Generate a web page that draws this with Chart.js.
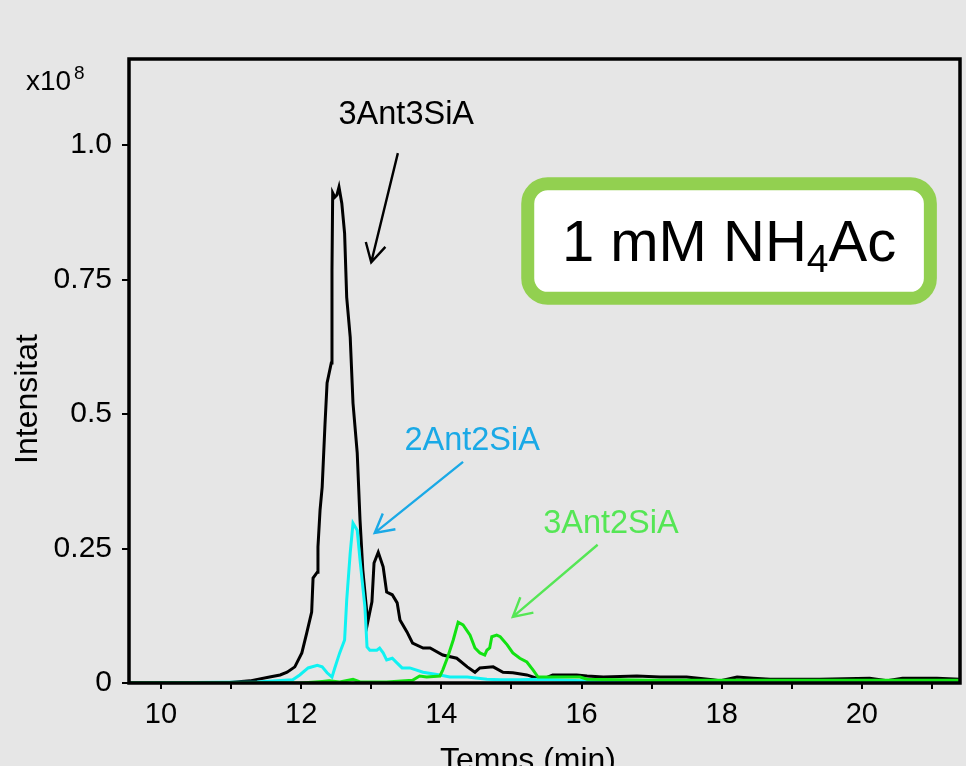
<!DOCTYPE html>
<html>
<head>
<meta charset="utf-8">
<script src="https://cdn.jsdelivr.net/npm/chart.js@4.4.1/dist/chart.umd.min.js"></script>
<style>
  html, body { margin: 0; padding: 0; background: #e6e6e6; }
  canvas { display: block; }
</style>
</head>
<body>
<canvas id="chromChart" width="966" height="766"></canvas>
<script>
// 3Ant3SiA (negre)
const blackTime = [9.55, 10.9, 11.27, 11.55, 11.70, 11.80, 11.91, 12.01, 12.08, 12.15, 12.17, 12.23, 12.24, 12.27, 12.30, 12.34, 12.37, 12.43, 12.44, 12.45, 12.48, 12.51, 12.54, 12.58, 12.62, 12.65, 12.70, 12.74, 12.80, 12.84, 12.88, 12.95, 13.01, 13.04, 13.10, 13.17, 13.22, 13.30, 13.37, 13.41, 13.51, 13.59, 13.74, 13.84, 14.02, 14.22, 14.37, 14.48, 14.55, 14.74, 14.88, 15.02, 15.22, 15.36, 15.45, 15.59, 15.93, 16.08, 16.31, 16.79, 17.12, 17.50, 17.87, 17.97, 18.22, 18.45, 18.69, 19.40, 20.11, 20.36, 20.58, 21.07, 21.40];
const blackInt = [0, 0, 0.004, 0.011, 0.015, 0.020, 0.030, 0.056, 0.093, 0.132, 0.195, 0.206, 0.253, 0.322, 0.364, 0.480, 0.558, 0.595, 0.768, 0.911, 0.903, 0.907, 0.922, 0.892, 0.836, 0.717, 0.643, 0.520, 0.428, 0.303, 0.210, 0.113, 0.151, 0.223, 0.243, 0.216, 0.169, 0.164, 0.149, 0.117, 0.095, 0.074, 0.065, 0.065, 0.052, 0.046, 0.030, 0.020, 0.028, 0.030, 0.020, 0.019, 0.015, 0.009, 0.007, 0.015, 0.015, 0.013, 0.011, 0.013, 0.011, 0.011, 0.006, 0.004, 0.011, 0.009, 0.007, 0.007, 0.009, 0.004, 0.009, 0.009, 0.007];

// 2Ant2SiA (cian)
const cyanTime = [9.55, 11.37, 11.88, 11.98, 12.10, 12.23, 12.30, 12.37, 12.44, 12.48, 12.55, 12.62, 12.65, 12.70, 12.74, 12.80, 12.84, 12.91, 12.94, 12.98, 13.08, 13.12, 13.17, 13.22, 13.30, 13.37, 13.44, 13.55, 13.74, 13.98, 14.12, 14.37, 14.65, 14.84, 15.12, 15.41, 16.0, 17.0, 18.0, 19.0, 20.0, 21.40];
const cyanInt = [0, 0.002, 0.006, 0.015, 0.028, 0.033, 0.030, 0.019, 0.011, 0.028, 0.056, 0.080, 0.154, 0.242, 0.297, 0.284, 0.229, 0.141, 0.067, 0.061, 0.061, 0.065, 0.056, 0.043, 0.046, 0.037, 0.028, 0.028, 0.020, 0.015, 0.011, 0.011, 0.007, 0.006, 0.006, 0.007, 0.004, 0.004, 0.004, 0.004, 0.004, 0.004];

// 3Ant2SiA (verd)
const greenTime = [9.55, 12.0, 12.3, 12.4, 12.55, 12.74, 12.84, 13.22, 13.59, 13.69, 13.79, 13.98, 14.02, 14.09, 14.17, 14.24, 14.31, 14.41, 14.48, 14.55, 14.62, 14.65, 14.69, 14.72, 14.79, 14.84, 14.94, 15.02, 15.12, 15.22, 15.31, 15.38, 15.51, 15.69, 15.98, 16.08, 17.0, 18.0, 19.0, 20.0, 21.40];
const greenInt = [0, 0, 0.003, 0.004, 0.002, 0.007, 0.002, 0.002, 0.005, 0.013, 0.011, 0.013, 0.024, 0.048, 0.080, 0.113, 0.108, 0.089, 0.065, 0.056, 0.052, 0.061, 0.065, 0.086, 0.089, 0.086, 0.071, 0.056, 0.046, 0.039, 0.024, 0.011, 0.011, 0.011, 0.011, 0.007, 0.005, 0.005, 0.005, 0.005, 0.005];

const yTicks = [0, 0.25, 0.5, 0.75, 1.0];
const yTickLabels = ['0', '0.25', '0.5', '0.75', '1.0'];
const xTicks = [10, 11, 12, 13, 14, 15, 16, 17, 18, 19, 20, 21];
const xTickLabels = ['10', '', '12', '', '14', '', '16', '', '18', '', '20', ''];

const FONT = '"Liberation Sans", Arial, sans-serif';
Chart.defaults.font.family = FONT;

function toPoints(t, v) {
  return t.map((x, i) => ({ x: x, y: v[i] }));
}

function arrow(ctx, x1, y1, x2, y2, color) {
  const a = Math.atan2(y2 - y1, x2 - x1);
  const len = 21, spread = 0.5;
  ctx.strokeStyle = color;
  ctx.lineWidth = 2.4;
  ctx.beginPath();
  ctx.moveTo(x1, y1);
  ctx.lineTo(x2, y2);
  ctx.moveTo(x2 - len * Math.cos(a - spread), y2 - len * Math.sin(a - spread));
  ctx.lineTo(x2, y2);
  ctx.lineTo(x2 - len * Math.cos(a + spread), y2 - len * Math.sin(a + spread));
  ctx.stroke();
}

function roundRect(ctx, x, y, w, h, r) {
  ctx.beginPath();
  ctx.moveTo(x + r, y);
  ctx.arcTo(x + w, y, x + w, y + h, r);
  ctx.arcTo(x + w, y + h, x, y + h, r);
  ctx.arcTo(x, y + h, x, y, r);
  ctx.arcTo(x, y, x + w, y, r);
  ctx.closePath();
}

// marc, títols dels eixos i anotacions
const decorPlugin = {
  id: 'decor',
  afterDraw(chart) {
    const ctx = chart.ctx;
    const a = chart.chartArea;
    const xs = chart.scales.x, ys = chart.scales.y;
    const px = v => xs.getPixelForValue(v);
    const py = v => ys.getPixelForValue(v);
    ctx.save();

    // marc negre
    ctx.strokeStyle = '#000';
    ctx.lineWidth = 3.5;
    ctx.strokeRect(a.left, a.top, a.right - a.left, a.bottom - a.top);

    // x10^8
    ctx.fillStyle = '#000';
    ctx.textAlign = 'left';
    ctx.textBaseline = 'alphabetic';
    ctx.font = '28px ' + FONT;
    ctx.fillText('x10', a.left - 103, a.top + 31);
    ctx.font = '19px ' + FONT;
    ctx.fillText('8', a.left - 55, a.top + 20);

    // títols dels eixos
    ctx.font = '32px ' + FONT;
    ctx.textAlign = 'center';
    ctx.fillText('Temps (min)', 528, a.bottom + 87);
    ctx.save();
    ctx.translate(37, 399);
    ctx.rotate(-Math.PI / 2);
    ctx.fillText('Intensitat', 0, 0);
    ctx.restore();

    // anotacions
    ctx.font = '32.5px ' + FONT;
    ctx.fillStyle = '#000';
    ctx.fillText('3Ant3SiA', px(13.50), py(1.039));
    arrow(ctx, px(13.38), py(0.985), px(13.00), py(0.782), '#000');

    ctx.fillStyle = '#1aa9e6';
    ctx.fillText('2Ant2SiA', px(14.44), py(0.433));
    arrow(ctx, px(14.31), py(0.411), px(13.05), py(0.279), '#1aa9e6');

    ctx.fillStyle = '#55e655';
    ctx.fillText('3Ant2SiA', px(16.42), py(0.279));
    arrow(ctx, px(16.23), py(0.257), px(15.02), py(0.123), '#55e655');

    // requadre 1 mM NH4Ac
    const bx1 = px(15.14) + 6.5, bx2 = px(21.07) - 6.5;
    const by1 = py(0.940) + 6.5, by2 = py(0.703) - 6.5;
    roundRect(ctx, bx1, by1, bx2 - bx1, by2 - by1, 20);
    ctx.fillStyle = '#fff';
    ctx.fill();
    ctx.strokeStyle = '#92d050';
    ctx.lineWidth = 13;
    ctx.stroke();

    ctx.fillStyle = '#000';
    ctx.textAlign = 'left';
    const main1 = '1 mM NH', sub = '4', main2 = 'Ac';
    ctx.font = '58px ' + FONT;
    const w1 = ctx.measureText(main1).width, w3 = ctx.measureText(main2).width;
    ctx.font = '39px ' + FONT;
    const w2 = ctx.measureText(sub).width;
    const cx = (bx1 + bx2) / 2;
    const base = (by1 + by2) / 2 + 20;
    let tx = cx - (w1 + w2 + w3) / 2;
    ctx.font = '58px ' + FONT;
    ctx.fillText(main1, tx, base);
    ctx.font = '39px ' + FONT;
    ctx.fillText(sub, tx + w1, base + 11);
    ctx.font = '58px ' + FONT;
    ctx.fillText(main2, tx + w1 + w2, base);

    ctx.restore();
  }
};

const ctx = document.getElementById('chromChart').getContext('2d');
const chromChart = new Chart(ctx, {
  type: 'line',
  data: {
    datasets: [
      {
        label: '3Ant2SiA',
        data: toPoints(greenTime, greenInt),
        borderColor: '#12e212',
        borderWidth: 3,
        pointRadius: 0,
        tension: 0,
        order: 1
      },
      {
        label: '2Ant2SiA',
        data: toPoints(cyanTime, cyanInt),
        borderColor: '#10f2f2',
        borderWidth: 3,
        pointRadius: 0,
        tension: 0,
        order: 2
      },
      {
        label: '3Ant3SiA',
        data: toPoints(blackTime, blackInt),
        borderColor: '#000000',
        borderWidth: 3,
        pointRadius: 0,
        tension: 0,
        order: 3
      }
    ]
  },
  options: {
    responsive: false,
    animation: false,
    layout: { padding: { top: 59, right: 6, left: 0, bottom: 0 } },
    plugins: {
      legend: { display: false },
      tooltip: { enabled: false }
    },
    scales: {
      x: {
        type: 'linear',
        min: 9.544,
        max: 21.4,
        afterBuildTicks: s => { s.ticks = xTicks.map(v => ({ value: v })); },
        afterFit: s => { s.height = 83; },
        ticks: {
          autoSkip: false,
          maxRotation: 0,
          padding: 9,
          color: '#000',
          font: { size: 29 },
          callback: (v, i) => xTickLabels[i]
        },
        grid: { drawOnChartArea: false, tickLength: 6, tickColor: '#000', lineWidth: 2 },
        border: { display: false }
      },
      y: {
        type: 'linear',
        min: 0,
        max: 1.16,
        afterBuildTicks: s => { s.ticks = yTicks.map(v => ({ value: v })); },
        afterFit: s => { s.width = 129; },
        ticks: {
          autoSkip: false,
          padding: 10,
          color: '#000',
          font: { size: 30 },
          callback: (v, i) => yTickLabels[i]
        },
        grid: { drawOnChartArea: false, tickLength: 7, tickColor: '#000', lineWidth: 2 },
        border: { display: false }
      }
    }
  },
  plugins: [decorPlugin]
});
</script>
</body>
</html>
